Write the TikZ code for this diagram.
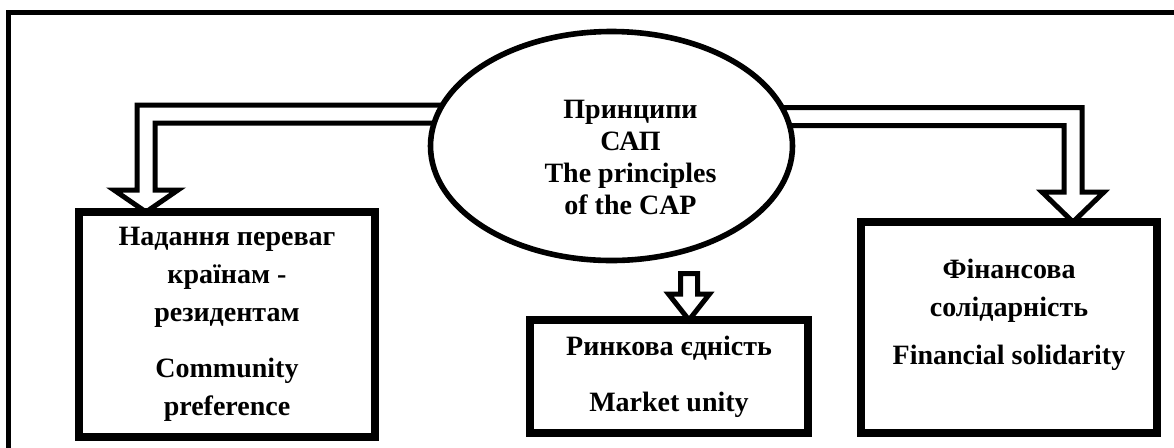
\documentclass[tikz,border=0pt]{standalone}
\usepackage{fontspec}
\setmainfont{Liberation Serif}
\usetikzlibrary{shapes.geometric,calc,backgrounds}
\begin{document}
\begin{tikzpicture}[x=0.5pt,y=-0.5pt,
        box/.style={draw, line width=4pt, inner sep=0pt, outer sep=0pt, align=center, font=\fontsize{14}{19}\selectfont\bfseries},
        hollow/.style={draw, fill=white, line width=2.5pt, miter limit=10},
        txt/.style={align=center, font=\fontsize{14}{19}\selectfont\bfseries}]
    \path[use as bounding box, clip] (0,0) rectangle (1174,447);
    \draw[line width=2.5pt] (8,12) rectangle (1200,480);
    % centre and the three principles
    \node (cap) at (611.5,146) [draw, ellipse, line width=2.8pt, fill=white, inner sep=0pt, outer sep=0pt, minimum width=181pt, minimum height=114.5pt] {};
    \node (captxt) at ($(cap)+(19,11.5)$) [txt, font=\fontsize{14}{16}\selectfont\bfseries] {Принципи\\САП\\The principles\\of the CAP};
    \node (pref) at (227,324.5) [box, minimum width=148pt, minimum height=112.5pt] {Надання переваг\\країнам -\\резидентам\\[9pt]Community\\preference};
    \node (unity) at (669,376.5) [box, minimum width=139pt, minimum height=56.5pt] {Ринкова єдність\\[9pt]Market unity};
    \node (solid) at (1009,327.5) [box, minimum width=148pt, minimum height=105.5pt] {};
    \node (solidtxt) at ($(solid)+(0,-13)$) [txt] {Фінансова\\солідарність\\[5pt]Financial solidarity};
    \begin{scope}[on background layer]
        \draw[hollow] ($(cap)+(0,-41)$) -| ($(pref.north)+(-90,-22)$) -- ++(-23,0) -- ($(pref.north)+(-81,0)$) -- ++(32,-22) -- ++(-23,0) |- ($(cap)+(0,-23)$);
        \draw[hollow] ($(cap)+(0,-38.5)$) -| ($(solid.north)+(73,-30)$) -- ++(22,0) -- ($(solid.north)+(64,0)$) -- ++(-31,-30) -- ++(22,0) |- ($(cap)+(0,-20.5)$);
        \draw[hollow] ($(unity.north)+(11.5,-46.5)$) -- ++(0,20.5) -- ++(-12,0) -- ($(unity.north)+(20,0)$) -- ++(20.5,-26) -- ++(-12,0) -- ++(0,-20.5) -- cycle;
    \end{scope}
\end{tikzpicture}
\end{document}
